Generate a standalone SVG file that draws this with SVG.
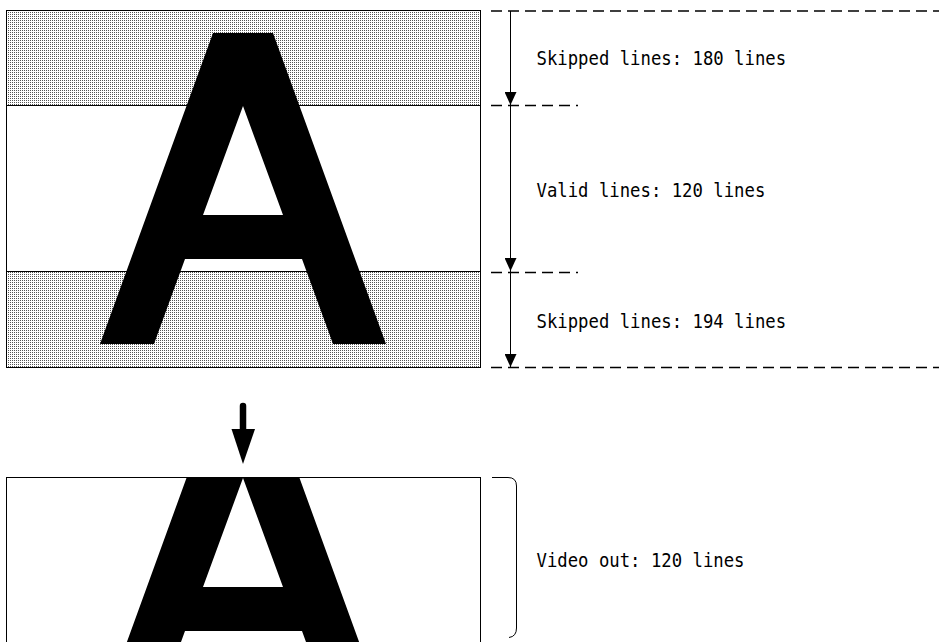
<svg xmlns="http://www.w3.org/2000/svg" width="939" height="642" viewBox="0 0 939 642">
  <defs>
    <!-- fine stipple used for the skipped bands -->
    <pattern id="dots" patternUnits="userSpaceOnUse" width="2" height="2">
      <rect width="2" height="2" fill="#ffffff"/>
      <rect width="1" height="1" fill="#555555"/>
    </pattern>
    <!-- letter A glyph shape (outer outline + counter) -->
    <path id="glyphA" fill-rule="evenodd" d="M213,33 L273,33 L386,344 L333,344 L302,259 L185,259 L154,344 L100,344 Z M243,106 L283,215 L203,215 Z"/>
    <clipPath id="outClip">
      <rect x="7" y="478" width="473" height="170"/>
    </clipPath>
    <marker id="tip" markerWidth="13" markerHeight="12" refX="13" refY="6" orient="auto" markerUnits="userSpaceOnUse" viewBox="0 0 13 12">
      <path d="M0,0 L13,6 L0,12 Z" fill="#000"/>
    </marker>
  </defs>
  <style>
    .frame { fill: none; stroke: #000; stroke-width: 1; }
    .dash { fill: none; stroke: #000; stroke-width: 1.5; stroke-dasharray: 11 6; }
    .dim { fill: none; stroke: #000; stroke-width: 1; }
    .label { font-family: "DejaVu Sans Mono", "Liberation Mono", monospace; font-size: 20px; fill: #000; }
  </style>

  <rect width="939" height="642" fill="#ffffff"/>

  <!-- source frame -->
  <g id="source-frame">
    <rect x="6.5" y="10.5" width="474" height="95" fill="url(#dots)"/>
    <rect x="6.5" y="271.5" width="474" height="96" fill="url(#dots)"/>
    <rect class="frame" x="6.5" y="10.5" width="474" height="357"/>
    <line class="frame" x1="6.5" y1="105.5" x2="480.5" y2="105.5"/>
    <line class="frame" x1="6.5" y1="271.5" x2="480.5" y2="271.5"/>
    <use href="#glyphA" fill="#000"/>
  </g>

  <!-- output frame -->
  <g id="output-frame">
    <g clip-path="url(#outClip)">
      <use href="#glyphA" fill="#000" transform="translate(0,372)"/>
    </g>
    <rect class="frame" x="6.5" y="477.5" width="474" height="180"/>
  </g>

  <!-- dimension lines and arrows -->
  <g id="connectors">
    <line class="dash" x1="491" y1="11" x2="939" y2="11"/>
    <line class="dash" x1="491" y1="105.5" x2="578" y2="105.5"/>
    <line class="dash" x1="491" y1="272.5" x2="578" y2="272.5"/>
    <line class="dash" x1="491" y1="367.5" x2="939" y2="367.5"/>
    <line class="dim" x1="510.5" y1="11" x2="510.5" y2="105" marker-end="url(#tip)"/>
    <line class="dim" x1="510.5" y1="105" x2="510.5" y2="271" marker-end="url(#tip)"/>
    <line class="dim" x1="510.5" y1="271" x2="510.5" y2="367" marker-end="url(#tip)"/>
    <!-- transfer arrow -->
    <line x1="243" y1="406" x2="243" y2="432" stroke="#000" stroke-width="6.5" stroke-linecap="round"/>
    <path d="M231.5,429 L255,429 L243,464 Z" fill="#000"/>
    <!-- bracket for output -->
    <path class="dim" d="M492,477.5 H508 Q516.5,477.5 516.5,486 V628 Q516.5,636.5 509,637.5"/>
  </g>

  <g id="labels">
    <text class="label" x="536.5" y="65" textLength="249.6" lengthAdjust="spacingAndGlyphs">Skipped lines: 180 lines</text>
    <text class="label" x="536.5" y="196.5" textLength="228.8" lengthAdjust="spacingAndGlyphs">Valid lines: 120 lines</text>
    <text class="label" x="536.5" y="327.5" textLength="249.6" lengthAdjust="spacingAndGlyphs">Skipped lines: 194 lines</text>
    <text class="label" x="536.5" y="567" textLength="208" lengthAdjust="spacingAndGlyphs">Video out: 120 lines</text>
  </g>
</svg>
